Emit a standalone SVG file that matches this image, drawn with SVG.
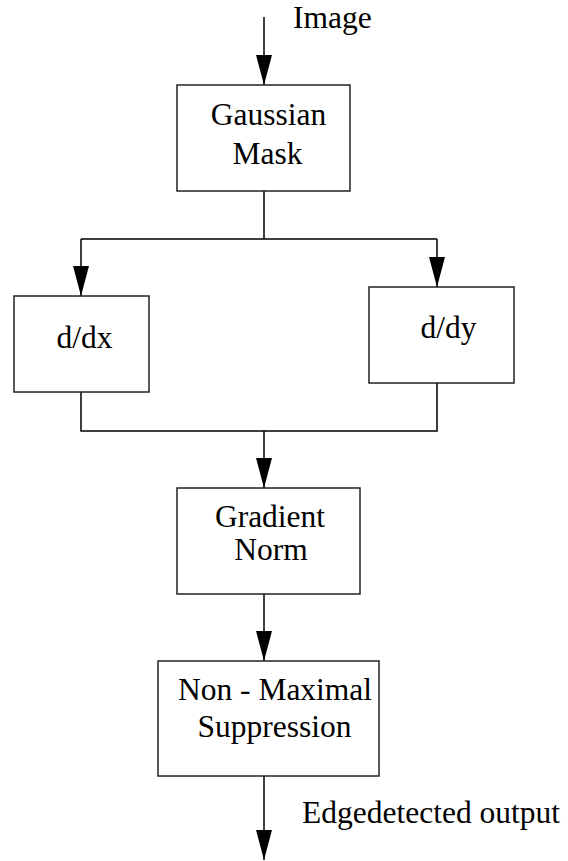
<svg xmlns="http://www.w3.org/2000/svg" width="568" height="861" viewBox="0 0 568 861">
<style>
.box{fill:#fff;stroke:#222;stroke-width:1.5}
text{font-family:'Liberation Serif','Times New Roman','DejaVu Serif',serif;font-size:31.5px;fill:#000}
.c{text-anchor:middle}
.ln{fill:none;stroke:#000;stroke-width:1.5}
</style>
<defs>
<marker id="ah" markerUnits="userSpaceOnUse" markerWidth="30" markerHeight="16" viewBox="0 0 30 16" refX="30" refY="8" orient="auto">
<path d="M0,0 L30,8 L0,16 Z" fill="#000"/>
</marker>
</defs>
<rect width="568" height="861" fill="#fff"/>
<g id="connectors">
<path class="ln" d="M264,17 L264,85" marker-end="url(#ah)"/>
<path class="ln" d="M264,191 L264,239 M81,239 L437,239"/>
<path class="ln" d="M81,239 L81,296" marker-end="url(#ah)"/>
<path class="ln" d="M437,239 L437,287" marker-end="url(#ah)"/>
<path class="ln" d="M81,392 L81,431 L437,431 L437,383"/>
<path class="ln" d="M264,431 L264,488" marker-end="url(#ah)"/>
<path class="ln" d="M264,594 L264,661" marker-end="url(#ah)"/>
<path class="ln" d="M264,776 L264,860" marker-end="url(#ah)"/>
<text font-family="Liberation Serif, serif" x="293" y="28">Image</text>
<text font-family="Liberation Serif, serif" x="302" y="823">Edgedetected output</text>
</g>
<g id="gaussian">
<rect class="box" x="177" y="85" width="173" height="106"/>
<text class="c" font-family="Liberation Serif, serif" x="268.5" y="125">Gaussian</text>
<text class="c" font-family="Liberation Serif, serif" x="267.5" y="164">Mask</text>
</g>
<g id="ddx">
<rect class="box" x="14" y="296" width="135" height="96"/>
<text class="c" font-family="Liberation Serif, serif" x="84.5" y="348">d/dx</text>
</g>
<g id="ddy">
<rect class="box" x="369" y="287" width="145" height="96"/>
<text class="c" font-family="Liberation Serif, serif" x="448.5" y="338">d/dy</text>
</g>
<g id="gradient">
<rect class="box" x="177" y="488" width="183" height="106"/>
<text class="c" font-family="Liberation Serif, serif" x="270" y="527">Gradient</text>
<text class="c" font-family="Liberation Serif, serif" x="271" y="560">Norm</text>
</g>
<g id="nms">
<rect class="box" x="158" y="661" width="221" height="115"/>
<text class="c" font-family="Liberation Serif, serif" x="275" y="700">Non - Maximal</text>
<text class="c" font-family="Liberation Serif, serif" x="274.5" y="737">Suppression</text>
</g>
</svg>
